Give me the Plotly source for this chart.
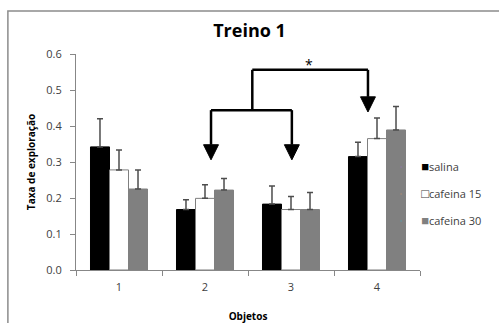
import plotly.graph_objects as go

objetos = [1, 2, 3, 4]
tick_labels = ["1", "2", "3", "4"]
salina = [0.342, 0.168, 0.183, 0.315]
salina_err = [0.078, 0.027, 0.050, 0.040]
caf15 = [0.278, 0.199, 0.168, 0.365]
caf15_err = [0.055, 0.038, 0.036, 0.057]
caf30 = [0.225, 0.222, 0.168, 0.389]
caf30_err = [0.053, 0.032, 0.047, 0.065]

series = [
    ("salina", salina, salina_err, "#000000", "#000000", "■", "#000000"),
    ("cafeina 15", caf15, caf15_err, "#FFFFFF", "#7f7f7f", "□", "#404040"),
    ("cafeina 30", caf30, caf30_err, "#808080", "#808080", "■", "#808080"),
]

# bracket geometry (data coords)
br_top_y = 0.556
br_low_y = 0.444
br_join_x = 2.55
br_left_x = [2.07, 3.01]
br_left_tip = 0.306
br_right_x = 3.895
br_right_tip = 0.439
head_h = 0.042
head_hw = 0.087
star_pos = (3.21, 0.572)

fig = go.Figure()
for name, vals, err, col, lc, glyph, gcol in series:
    fig.add_trace(go.Bar(
        x=objetos, y=vals, name=name, showlegend=False,
        marker=dict(color=col, line=dict(color=lc, width=1)),
        error_y=dict(type="data", array=err, arrayminus=[0]*len(err),
                     symmetric=False, color="#4d4d4d", thickness=1.5, width=3),
    ))
for name, vals, err, col, lc, glyph, gcol in series:
    fig.add_trace(go.Scatter(
        x=[None], y=[None], mode="markers", legendgroup=name,
        name=f"<span style='color:{gcol}; font-size:13px'>{glyph}</span>{name}",
        marker=dict(opacity=0, size=1),
    ))

shapes = []
line = dict(color="black", width=2.5)
shapes.append(dict(type="line", x0=br_join_x, x1=br_right_x, y0=br_top_y, y1=br_top_y, line=line))
shapes.append(dict(type="line", x0=br_join_x, x1=br_join_x, y0=br_top_y, y1=br_low_y, line=line))
shapes.append(dict(type="line", x0=br_right_x, x1=br_right_x, y0=br_top_y, y1=br_right_tip + head_h, line=line))
shapes.append(dict(type="line", x0=br_left_x[0], x1=br_left_x[1], y0=br_low_y, y1=br_low_y, line=line))
for xx in br_left_x:
    shapes.append(dict(type="line", x0=xx, x1=xx, y0=br_low_y, y1=br_left_tip + head_h, line=line))

def head(x, tip):
    return dict(type="path",
                path=f"M {x-head_hw},{tip+head_h} L {x+head_hw},{tip+head_h} L {x},{tip} Z",
                fillcolor="black", line=dict(color="black", width=1))

for xx in br_left_x:
    shapes.append(head(xx, br_left_tip))
shapes.append(head(br_right_x, br_right_tip))
shapes.append(dict(type="rect", xref="paper", yref="paper", x0=-0.198, x1=1.5, y0=-0.5, y1=1.199,
                   line=dict(color="#8c8c8c", width=1.5), fillcolor="rgba(0,0,0,0)", layer="below"))

fig.update_layout(
    width=499, height=323,
    margin=dict(l=76, r=79, t=54, b=53),
    paper_bgcolor="white", plot_bgcolor="white",
    barmode="group", bargap=0.337, bargroupgap=0,
    font=dict(family="Open Sans", size=10, color="#404040"),
    title=dict(text="<b>Treino 1</b>", x=0.5, xanchor="center", y=0.905, yanchor="middle",
               font=dict(family="Open Sans", size=18, color="black")),
    showlegend=True,
    legend=dict(x=0.887, y=0.352, xanchor="left", yanchor="middle", traceorder="grouped",
                font=dict(size=11, color="#404040"), itemwidth=30, tracegroupgap=8,
                bgcolor="rgba(0,0,0,0)"),
    shapes=shapes,
    annotations=[dict(x=star_pos[0], y=star_pos[1], text="*", showarrow=False,
                      font=dict(size=14, color="black"))],
)
fig.update_xaxes(
    range=[0.5, 4.5], tickvals=objetos, ticktext=tick_labels, showgrid=False, automargin=False,
    showline=True, linecolor="#878787", linewidth=1, ticks="", ticklabelstandoff=7,
    tickfont=dict(size=11, color="#404040"),
    title=dict(text="<b>Objetos</b>", font=dict(size=10, color="black"), standoff=20),
    minor=dict(tickvals=[0.5, 1.5, 2.5, 3.5, 4.5], ticks="outside", ticklen=5, tickcolor="#878787"),
)
fig.update_yaxes(
    range=[0, 0.6], dtick=0.1, tickformat=".1f", showgrid=False, zeroline=False, automargin=False,
    showline=True, linecolor="#878787", linewidth=1, ticks="outside", ticklen=5,
    ticklabelstandoff=6,
    tickcolor="#878787", tickfont=dict(size=11, color="#404040"),
    title=dict(text="<b>Taxa de exploração</b>", font=dict(size=10, color="black"), standoff=8),
)
fig.write_html("out.html")
